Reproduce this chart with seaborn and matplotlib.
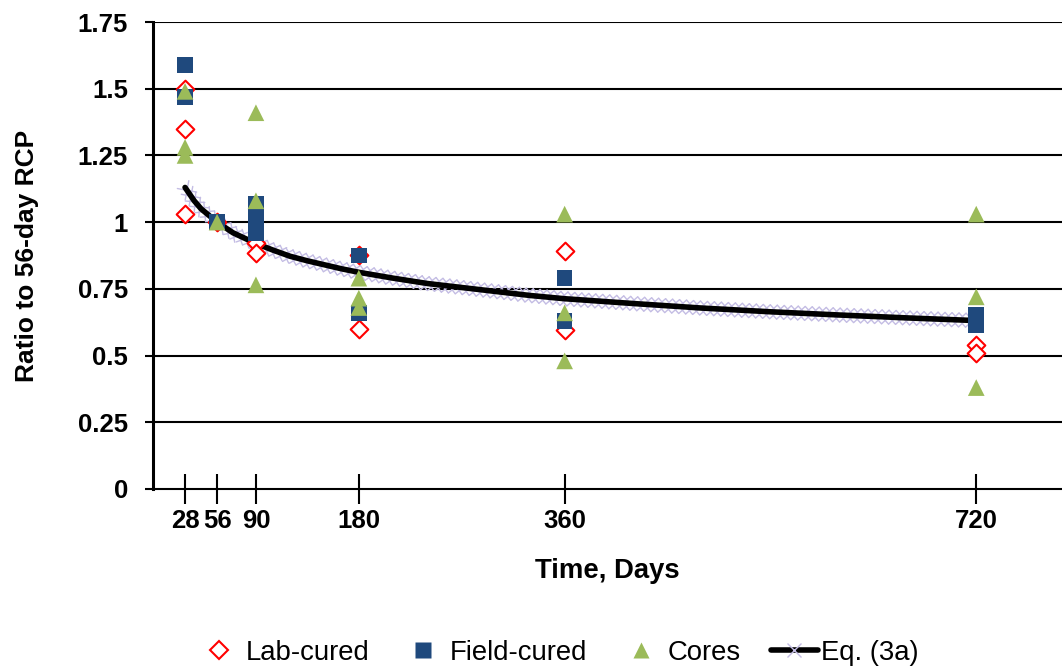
import matplotlib
matplotlib.use("Agg")
import matplotlib.pyplot as plt
import matplotlib.patheffects as pe
import seaborn as sns
import pandas as pd
from matplotlib.lines import Line2D

# data
lab_days = [28, 28, 28, 56, 90, 90, 180, 180, 360, 360, 720, 720]
lab_ratio = [1.50, 1.35, 1.03, 1.00, 0.92, 0.885, 0.875, 0.60, 0.89, 0.595, 0.54, 0.51]

field_days = [28, 28, 56, 90, 90, 90, 180, 180, 360, 360, 720, 720]
field_ratio = [1.59, 1.47, 1.00, 1.07, 1.02, 0.96, 0.875, 0.66, 0.79, 0.63, 0.652, 0.615]

core_days = [28, 28, 28, 56, 90, 90, 90, 180, 180, 180, 360, 360, 360, 720, 720, 720]
core_ratio = [1.49, 1.28, 1.25, 1.00, 1.41, 1.08, 0.765, 0.79, 0.715, 0.68, 1.03, 0.66, 0.48, 1.03, 0.72, 0.38]

eq_days = [28, 32, 36, 42, 49, 56, 63, 70, 80, 90, 105, 120, 135, 150, 165, 180,
           210, 240, 270, 300, 330, 360, 420, 480, 540, 600, 660, 720]
eq_ratio = [1.13, 1.105, 1.08, 1.05, 1.025, 1.00, 0.98, 0.96, 0.94, 0.92, 0.895, 0.872,
            0.855, 0.84, 0.825, 0.812, 0.79, 0.77, 0.755, 0.74, 0.725, 0.713,
            0.695, 0.678, 0.664, 0.652, 0.641, 0.631]

tick_days = [28, 56, 90, 180, 360, 720]
y_ticks = [0, 0.25, 0.5, 0.75, 1, 1.25, 1.5, 1.75]
y_labels = ["0", "0.25", "0.5", "0.75", "1", "1.25", "1.5", "1.75"]

lab = pd.DataFrame({"days": lab_days, "ratio": lab_ratio})
field = pd.DataFrame({"days": field_days, "ratio": field_ratio})
cores = pd.DataFrame({"days": core_days, "ratio": core_ratio})
eq = pd.DataFrame({"days": eq_days, "ratio": eq_ratio})

sns.set_style("white")
plt.rcParams["font.family"] = ["Liberation Sans", "DejaVu Sans"]
plt.rcParams["text.color"] = "black"
plt.rcParams["axes.labelcolor"] = "black"

RED = "#FF0000"
BLUE = "#1F497D"
GREEN = "#9BBB59"
LAVENDER = "#C4BDE4"

fig = plt.figure(figsize=(10.62, 6.69), dpi=100)
ax = fig.add_axes([0.1441, 0.2691, 0.8559, 0.6980])

# equation curve: lavender cross band under a thick black line
cross = [pe.TickedStroke(spacing=5, angle=a, length=1.414, linewidth=1.0, foreground=LAVENDER)
         for a in (45, 135, -45, -135)]
ax.plot(eq["days"], eq["ratio"], color=LAVENDER, lw=1, path_effects=cross, zorder=2)
sns.lineplot(data=eq, x="days", y="ratio", color="black", lw=4, sort=True,
             ax=ax, zorder=3, legend=False)

sns.scatterplot(data=lab, x="days", y="ratio", marker="D", s=9.0 ** 2,
                facecolor="white", edgecolor=RED, linewidth=1.5, ax=ax, zorder=4)
sns.scatterplot(data=field, x="days", y="ratio", marker="s", s=11.3 ** 2,
                color=BLUE, edgecolor="none", linewidth=0, ax=ax, zorder=5)
sns.scatterplot(data=cores, x="days", y="ratio", marker="^", s=12 ** 2,
                color=GREEN, edgecolor="none", linewidth=0, ax=ax, zorder=6)

ax.set_xlim(0, 795)
ax.set_ylim(0, 1.75)
ax.set_yticks(y_ticks)
ax.set_yticklabels(y_labels)
ax.set_xticks(tick_days)
ax.set_xticklabels([str(d) for d in tick_days])
for y in y_ticks[1:]:
    ax.axhline(y, color="black", lw=1.5, zorder=1)

for side in ("top", "right"):
    ax.spines[side].set_visible(False)
ax.spines["left"].set_linewidth(2.2)
ax.spines["left"].set_color("black")
ax.spines["bottom"].set_linewidth(1.5)
ax.spines["bottom"].set_color("black")

ax.tick_params(axis="x", direction="inout", length=21, width=1.5, pad=4,
               labelsize=18.5, colors="black", bottom=True)
ax.tick_params(axis="y", direction="out", length=6, width=1.5, pad=12,
               labelsize=18.5, colors="black", left=True)
for lbl in ax.get_xticklabels() + ax.get_yticklabels():
    lbl.set_fontweight("bold")

ax.set_xlabel("Time, Days", fontsize=19.8, fontweight="bold", labelpad=18, color="black")
ax.set_ylabel("Ratio to 56-day RCP", fontsize=19, fontweight="bold", labelpad=28, color="black")

handles = [
    Line2D([], [], ls="none", marker="D", ms=9, mfc="white", mec=RED, mew=1.5),
    Line2D([], [], ls="none", marker="s", ms=11, mfc=BLUE, mec="none"),
    Line2D([], [], ls="none", marker="^", ms=12, mfc=GREEN, mec="none"),
    Line2D([], [], color="black", lw=4, marker="x", ms=10, mec=LAVENDER, mew=1),
]
labels = ["Lab-cured", "Field-cured", "Cores", "Eq. (3a)"]
fig.legend(handles, labels, loc="center", bbox_to_anchor=(0.5245, 0.024), ncol=4,
           frameon=False, fontsize=19.8, handlelength=1.7, handletextpad=0.12,
           columnspacing=1.1, labelcolor="black")

fig.savefig("out.png", dpi=100)
